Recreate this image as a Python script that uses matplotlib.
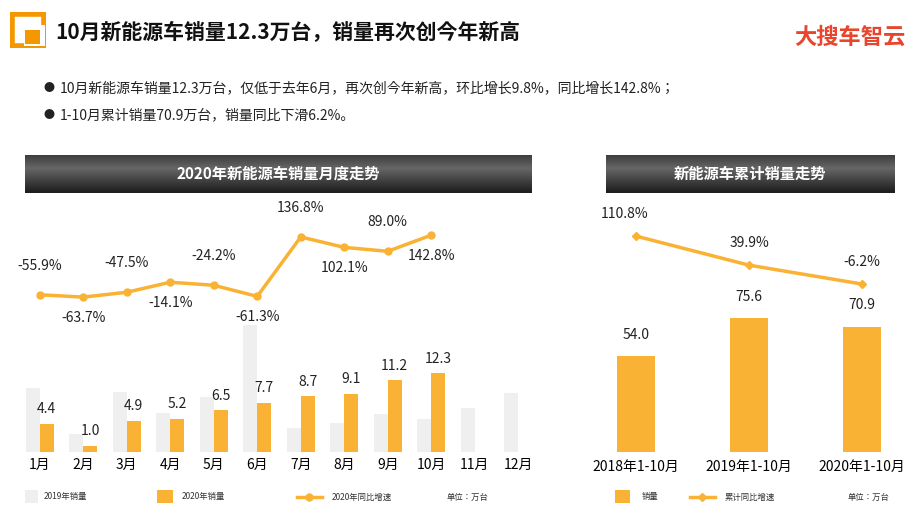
import numpy as np
import matplotlib
matplotlib.use("Agg")
import matplotlib.pyplot as plt
from matplotlib.patches import Rectangle
from matplotlib.lines import Line2D
from matplotlib import font_manager as fm

cjk = [f.name for f in fm.fontManager.ttflist if 'CJK' in f.name and 'Sans' in f.name]
pref = [n for n in cjk if n.endswith('SC')] or cjk
plt.rcParams['font.family'] = 'sans-serif'
plt.rcParams['font.sans-serif'] = pref[:1] + ['DejaVu Sans']

months = ['1月','2月','3月','4月','5月','6月','7月','8月','9月','10月','11月','12月']
sales_2019 = [10.0, 2.8, 9.3, 6.1, 8.6, 19.9, 3.7, 4.5, 5.9, 5.1, 6.9, 9.2]
sales_2020 = [4.4, 1.0, 4.9, 5.2, 6.5, 7.7, 8.7, 9.1, 11.2, 12.3]
yoy_2020 = [-55.9, -63.7, -47.5, -14.1, -24.2, -61.3, 136.8, 102.1, 89.0, 142.8]

cum_labels = ['2018年1-10月', '2019年1-10月', '2020年1-10月']
cum_sales = [54.0, 75.6, 70.9]
cum_yoy = [110.8, 39.9, -6.2]

ORANGE = '#F9B233'
GREY = '#EFEFEF'
W, H = 920, 518
fig = plt.figure(figsize=(9.2, 5.18), dpi=100)

def ax_px(x0, y0, x1, y1):
    a = fig.add_axes([x0 / W, 1 - y1 / H, (x1 - x0) / W, (y1 - y0) / H])
    a.patch.set_alpha(0)
    return a

def ftext(x, y, s, **kw):
    fig.text(x / W, 1 - y / H, s, **kw)

# title icon
ic = ax_px(10, 12, 46, 48); ic.axis('off')
ic.set_xlim(0, 1); ic.set_ylim(0, 1)
ic.add_patch(Rectangle((0.05, 0.05), 0.9, 0.9, fill=False, lw=4, ec='#F39800'))
ic.add_patch(Rectangle((0.38, 0.05), 0.6, 0.6, fc='white', ec='none'))
ic.add_patch(Rectangle((0.42, 0.1), 0.4, 0.4, fc='#F39800', ec='none'))
ftext(55, 33, '10月新能源车销量12.3万台，销量再次创今年新高', fontsize=15, fontweight='bold', va='center', color='#111')
ftext(905, 37, '大搜车智云', fontsize=16, fontweight='bold', style='italic', va='center', ha='right', color='#E8452C')

ftext(44, 88, '●', fontsize=8, va='center', color='#222')
ftext(60, 88, '10月新能源车销量12.3万台，仅低于去年6月，再次创今年新高，环比增长9.8%，同比增长142.8%；', fontsize=10, va='center', color='#222')
ftext(44, 115, '●', fontsize=8, va='center', color='#222')
ftext(60, 115, '1-10月累计销量70.9万台，销量同比下滑6.2%。', fontsize=10, va='center', color='#222')

# headers
def header(x0, x1, label):
    a = ax_px(x0, 155, x1, 193); a.axis('off')
    g = np.linspace(0, 1, 100)
    col = (0.12 + 0.28 * np.clip(1 - np.abs(g - 0.35) * 1.6, 0, 1))[:, None]
    a.imshow(np.repeat(col, 2, axis=1), cmap='gray', vmin=0, vmax=1, aspect='auto', extent=[0, 1, 0, 1])
    a.set_xlim(0, 1); a.set_ylim(0, 1)
    a.text(0.5, 0.5, label, color='white', fontsize=11, fontweight='bold', ha='center', va='center')
header(25, 532, '2020年新能源车销量月度走势')
header(606, 895, '新能源车累计销量走势')

# left chart
ax = ax_px(18, 152, 540, 452)
x = np.arange(12)
ax.bar(x - 0.16, sales_2019, width=0.32, color=GREY)
x2 = np.arange(len(sales_2020))
ax.bar(x2 + 0.16, sales_2020, width=0.32, color=ORANGE)
for xi, v in zip(x2, sales_2020):
    ax.text(xi + 0.16, v + 1.2, f'{v:.1f}', ha='center', va='bottom', fontsize=10, color='#222')
ax.set_xlim(-0.5, 11.5); ax.set_ylim(0, 300 / 6.4)
ax.set_xticks(x); ax.set_xticklabels(months, fontsize=10)
ax.tick_params(length=0, pad=4)
ax.set_yticks([])
for s in ax.spines.values(): s.set_visible(False)
ax2 = ax.twinx()
ax2.plot(x2, yoy_2020, color=ORANGE, lw=2.5, marker='o', ms=5)
ax2.set_ylim(-580, 420); ax2.set_yticks([])
for s in ax2.spines.values(): s.set_visible(False)
for i, v in enumerate(yoy_2020):
    above = (i % 2 == 0)
    ax2.annotate(f'{v:.1f}%', (i, v), xytext=(0, 16 if above else -10), textcoords='offset points',
                 ha='center', va='bottom' if above else 'top', fontsize=10, color='#222')

# right chart
bx = ax_px(579.5, 152, 918.5, 452)
xc = np.arange(3)
bx.bar(xc, cum_sales, width=0.34, color=ORANGE)
for xi, v in zip(xc, cum_sales):
    bx.text(xi, v + 8, f'{v:.1f}', ha='center', va='bottom', fontsize=10, color='#222')
bx.set_xlim(-0.5, 2.5); bx.set_ylim(0, 300 / 1.77)
bx.set_xticks(xc); bx.set_xticklabels(cum_labels, fontsize=10)
bx.tick_params(length=0, pad=6); bx.set_yticks([])
for s in bx.spines.values(): s.set_visible(False)
bx2 = bx.twinx()
bx2.plot(xc, cum_yoy, color=ORANGE, lw=2.5, marker='D', ms=4)
bx2.set_ylim(-416, 316); bx2.set_yticks([])
for s in bx2.spines.values(): s.set_visible(False)
for i, v in enumerate(cum_yoy):
    bx2.annotate(f'{v:.1f}%', (i, v), xytext=(-8 if i == 0 else 0, 11), textcoords='offset points',
                 ha='center', va='bottom', fontsize=10, color='#222')

# legends
def sq(x0, x1, color):
    fig.patches.append(Rectangle((x0 / W, 1 - 503 / H), (x1 - x0) / W, 13 / H, fc=color, ec='none', transform=fig.transFigure))
sq(25, 38, GREY); ftext(44, 497, '2019年销量', fontsize=6, va='center', color='#333')
sq(157, 173, ORANGE); ftext(182, 497, '2020年销量', fontsize=6, va='center', color='#333')
fig.add_artist(Line2D([297 / W, 322 / W], [1 - 497 / H] * 2, color=ORANGE, lw=2.5))
fig.add_artist(Line2D([309.5 / W], [1 - 497 / H], color=ORANGE, marker='o', ms=5))
ftext(332, 497, '2020年同比增速', fontsize=6, va='center', color='#333')
ftext(447, 497, '单位：万台', fontsize=6, va='center', color='#333')
sq(615, 630, ORANGE); ftext(642, 497, '销量', fontsize=6, va='center', color='#333')
fig.add_artist(Line2D([690 / W, 715 / W], [1 - 497 / H] * 2, color=ORANGE, lw=2.5))
fig.add_artist(Line2D([702.5 / W], [1 - 497 / H], color=ORANGE, marker='D', ms=4))
ftext(725, 497, '累计同比增速', fontsize=6, va='center', color='#333')
ftext(848, 497, '单位：万台', fontsize=6, va='center', color='#333')

fig.savefig('out.png', dpi=100, facecolor='white')
